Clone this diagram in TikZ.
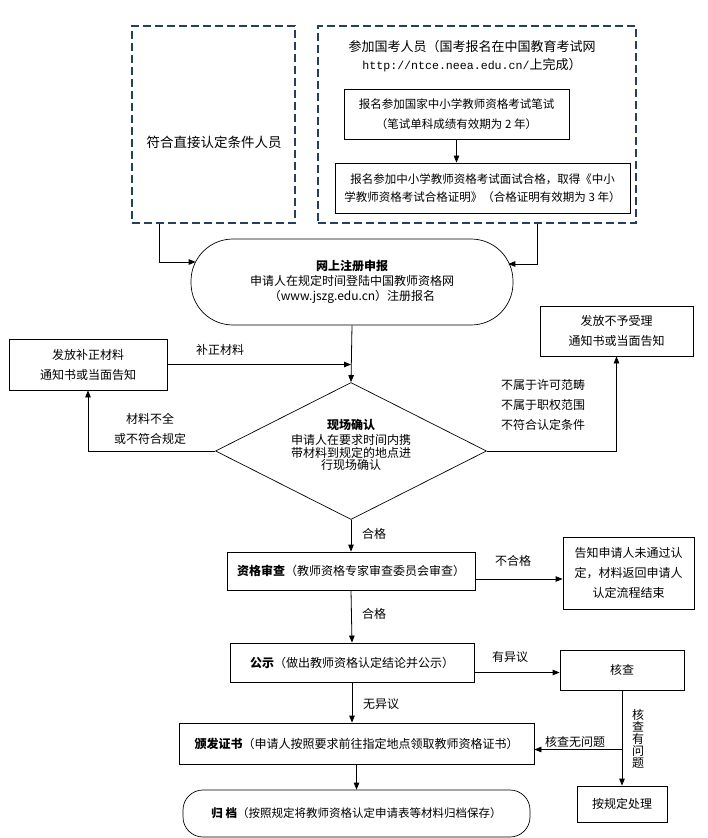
\documentclass[tikz,border=0pt]{standalone}
\usepackage{fontspec}
\setmainfont{Noto Sans CJK SC}
\newfontfamily\urlfont{Liberation Mono}
\usetikzlibrary{arrows.meta,shapes.geometric}
\definecolor{navy}{RGB}{38,62,98}
\begin{document}
\begin{tikzpicture}[x=1pt,y=-1pt,
  every node/.style={font=\fontsize{12}{20}\selectfont, inner sep=0pt},
  box/.style={draw, line width=0.8pt, rectangle, align=center},
  dbox/.style={draw=navy, line width=2.5pt, dash pattern=on 8pt off 4pt},
  pill/.style={draw, line width=0.7pt, align=center},
  arr/.style={line width=0.8pt, -{Triangle[length=7pt,width=5.5pt]}},
  lbl/.style={align=center},
]
\useasboundingbox (0,0) rectangle (707,838);

% top dashed groups
\node[dbox, minimum width=163pt, minimum height=197pt] (ld) at (213.5,124.5) {};
\node (ldt) at (214,142) {\fontsize{13.5}{20}\selectfont 符合直接认定条件人员};
\node[dbox, minimum width=318pt, minimum height=197pt] (rd) at (477,124.5) {};
\node[lbl, font=\fontsize{13}{18}\selectfont] (rdt) at (472,56)
  {参加国考人员（国考报名在中国教育考试网\\{\urlfont\fontsize{11.6}{18}\selectfont http://ntce.neea.edu.cn/}上完成）};
\node[box, minimum width=225pt, minimum height=50pt, font=\fontsize{11.5}{20}\selectfont] (b1) at (456.5,114)
  {报名参加国家中小学教师资格考试笔试\\（笔试单科成绩有效期为 2 年）};
\node[box, minimum width=295pt, minimum height=50pt, font=\fontsize{11.5}{18}\selectfont] (b2) at (482.5,188)
  {报名参加中小学教师资格考试面试合格，取得《中小\\学教师资格考试合格证明》（合格证明有效期为 3 年）};
\draw[arr] (b1.south) -- (b1.south |- b2.north);

% online registration
\node[pill, rounded corners=42pt, minimum width=322pt, minimum height=86pt, font=\fontsize{12}{15}\selectfont] (reg) at (352,282)
  {\textbf{网上注册申报}\\申请人在规定时间登陆中国教师资格网\\（www.jszg.edu.cn）注册报名};
\coordinate (ldo) at ([xshift=-54.5pt]ld.south);
\coordinate (rgin) at ([xshift=5pt,yshift=20pt]reg.west);
\draw[arr] (ldo) |- (rgin);
\coordinate (rdo) at ([xshift=60pt]rd.south);
\coordinate (rgin2) at ([xshift=-5pt,yshift=18pt]reg.east);
\draw[arr] (rdo) |- (rgin2);

% on-site confirmation
\node[draw, diamond, line width=0.7pt, minimum width=271pt, minimum height=137pt, aspect=2] (dia) at (351,451) {};
\node[lbl, font=\fontsize{12}{12.5}\selectfont] (diat) at (351,445)
  {\textbf{现场确认}\\[3pt]申请人在要求时间内携\\带材料到规定的地点进\\行现场确认};
\draw[arr] (reg.south) -- (dia.north);

\node[box, minimum width=158pt, minimum height=51pt] (fb) at (88,364.5) {发放补正材料\\通知书或当面告知};
\draw[arr] (fb.east) -- (fb.east -| dia.north);
\node (l1) at (220,350) {补正材料};
\draw[arr] (dia.west) -| (fb.south);
\node[lbl] (l2) at (150,428.5) {材料不全\\或不符合规定};

\node[box, minimum width=153pt, minimum height=50pt] (nb) at (616.5,331) {发放不予受理\\通知书或当面告知};
\draw[arr] (dia.east) -| (nb.south);
\node[lbl] (l3) at (543,405) {不属于许可范畴\\不属于职权范围\\不符合认定条件};

% qualification review
\node[box, minimum width=248pt, minimum height=38pt] (zg) at (351,571) {\textbf{资格审查}（教师资格专家审查委员会审查）};
\draw[arr] (dia.south) -- (zg.north);
\node[anchor=west] (l4) at (362,534) {合格};
\node[box, minimum width=131pt, minimum height=72pt] (gz) at (628.5,573) {告知申请人未通过认\\定，材料返回申请人\\认定流程结束};
\coordinate (zgq) at ([yshift=-8pt]zg.east);
\draw[arr] (zgq) -- (zgq -| gz.west);
\node (l5) at (513,561) {不合格};

% publicity
\node[box, minimum width=244pt, minimum height=39pt] (gs) at (352,662.5) {\textbf{公示}（做出教师资格认定结论并公示）};
\draw[arr] (zg.south) -- (gs.north);
\node[anchor=west] (l6) at (362,614) {合格};
\node[box, minimum width=124pt, minimum height=40pt] (hc) at (622,670) {核查};
\coordinate (gsq) at ([yshift=-10pt]gs.east);
\draw[arr] (gsq) -- (gsq -| hc.west);
\node (l7) at (510,657) {有异议};
\node[box, minimum width=90pt, minimum height=36pt] (gd) at (622,804) {按规定处理};
\draw[arr] (hc.south) -- (gd.north);
\node[lbl, font=\fontsize{12}{12}\selectfont] (l8) at (638,739) {核\\查\\有\\问\\题};

% certificate
\node[box, minimum width=355pt, minimum height=41pt] (bz) at (356.5,743.5) {\textbf{颁发证书}（申请人按照要求前往指定地点领取教师资格证书）};
\draw[arr] (gs.south) -- (gs.south |- bz.north);
\node[anchor=west] (l10) at (363,704) {无异议};
\coordinate (bzq) at ([yshift=-6pt]bz.east);
\draw[arr] (bzq -| hc.south) -- (bzq);
\node (l9) at (575,742) {核查无问题};

% archive
\node[pill, rounded corners=20pt, minimum width=347pt, minimum height=47pt, font=\fontsize{11.5}{14}\selectfont] (ga) at (356.5,813.5)
  {\textbf{归\ 档}（按照规定将教师资格认定申请表等材料归档保存）};
\draw[arr] (bz.south) -- (ga.north);
\end{tikzpicture}
\end{document}
